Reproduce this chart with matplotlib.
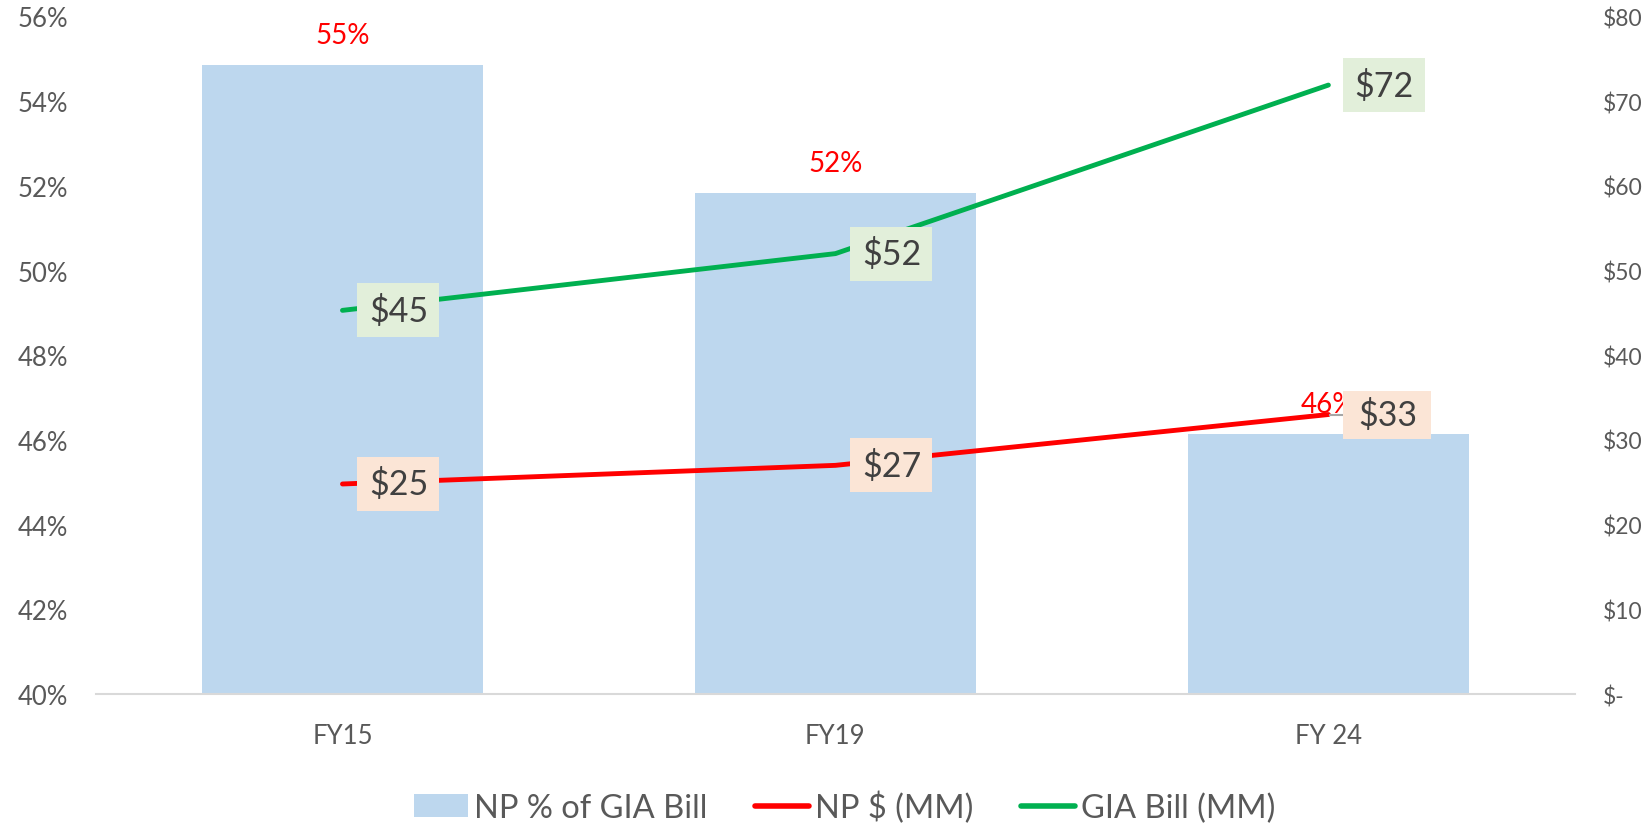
import matplotlib
matplotlib.use("Agg")
import matplotlib.pyplot as plt
from matplotlib.patches import Rectangle, Patch
from matplotlib.lines import Line2D
from matplotlib.transforms import Affine2D, ScaledTranslation
from matplotlib.ticker import FuncFormatter, MultipleLocator

plt.rcParams['font.family'] = ['Lato', 'DejaVu Sans']

# ---- data ----
categories = ["FY15", "FY19", "FY 24"]
np_pct = [54.85, 51.83, 46.15]        # NP % of GIA Bill (left axis)
np_dollars = [24.8, 27.0, 33.0]       # NP $ (MM) (right axis)
gia_bill = [45.3, 52.0, 71.9]         # GIA Bill (MM) (right axis)
legend_labels = ["NP % of GIA Bill", "NP $ (MM)", "GIA Bill (MM)"]

BAR_C = '#BDD7EE'
RED = '#FF0000'
GREEN = '#00B050'
TICK_C = '#595959'

fig = plt.figure(figsize=(16.45, 8.28), dpi=100)
ax = fig.add_axes([0.05836, 0.1606, 0.8990, 0.8183])
x = list(range(len(categories)))

ax.bar(x, np_pct, width=0.57, color=BAR_C, zorder=1)
ax.set_xlim(-0.5, 2.5)
ax.set_ylim(40, 56)
ax.yaxis.set_major_locator(MultipleLocator(2))
ax.yaxis.set_major_formatter(FuncFormatter(lambda v, p: f"{v:.0f}%"))
ax.set_xticks(x, categories)
ax.tick_params(axis='y', length=0, pad=20, labelsize=18.5, labelcolor=TICK_C)
ax.tick_params(axis='x', length=0, pad=21, labelsize=18.5, labelcolor=TICK_C)
for name, sp in ax.spines.items():
    if name == 'bottom':
        sp.set_color('#D9D9D9')
        sp.set_linewidth(1.5)
    else:
        sp.set_visible(False)

for xi, v in zip(x, np_pct):
    ax.annotate(f"{round(v):.0f}%", (xi, v), xytext=(0, 30), textcoords='offset pixels',
                ha='center', va='center', color=RED, fontsize=20, zorder=3)

ax2 = ax.twinx()
ax2.set_ylim(0, 80)
ax2.yaxis.set_major_locator(MultipleLocator(10))
ax2.yaxis.set_major_formatter(FuncFormatter(lambda v, p: "$-" if abs(v) < 1e-9 else f"${v:.0f}"))
ax2.tick_params(axis='y', length=0, pad=20, labelsize=16.5, labelcolor=TICK_C)
for sp in ax2.spines.values():
    sp.set_visible(False)

ax2.plot(x, np_dollars, color=RED, lw=3.5, solid_capstyle='round', zorder=2)
ax2.plot(x, gia_bill, color=GREEN, lw=3.5, solid_capstyle='round', zorder=2)


def box_label(xi, yi, text, face, dx=56, w=82, h=54, leader=False):
    base = ScaledTranslation(xi, yi, ax2.transData)
    tr = Affine2D().scale(w, h).translate(dx - w / 2, -h / 2) + base
    rect = Rectangle((0, 0), 1, 1, transform=tr, facecolor=face, edgecolor='none',
                     zorder=5, clip_on=False)
    ax2.add_patch(rect)
    if leader:
        ln = Line2D([2, dx - w / 2], [0, 0], transform=base, color='#A6A6A6', lw=1.5,
                    zorder=4, clip_on=False)
        ax2.add_line(ln)
    ax2.annotate(text, (xi, yi), xytext=(dx, 0), textcoords='offset pixels',
                 ha='center', va='center', fontsize=24.5, color='#404040', zorder=6)


for i, (xi, v) in enumerate(zip(x, gia_bill)):
    box_label(xi, v, f"${round(v):.0f}", '#E2EFDA')
for i, (xi, v) in enumerate(zip(x, np_dollars)):
    last = i == len(x) - 1
    box_label(xi, v, f"${round(v):.0f}", '#FBE5D6', dx=59 if last else 56,
              w=88 if last else 82, h=48 if last else 54, leader=last)

handles = [Patch(facecolor=BAR_C, edgecolor='none'),
           Line2D([], [], color=RED, lw=4, solid_capstyle='round'),
           Line2D([], [], color=GREEN, lw=4, solid_capstyle='round')]
fig.legend(handles, legend_labels, loc='center', bbox_to_anchor=(0.5135, 0.0242), ncol=3,
           frameon=False, fontsize=23.5, labelcolor=TICK_C, handlelength=1.65,
           handletextpad=0.2, columnspacing=1.45)

fig.savefig('out.png', dpi=100)
